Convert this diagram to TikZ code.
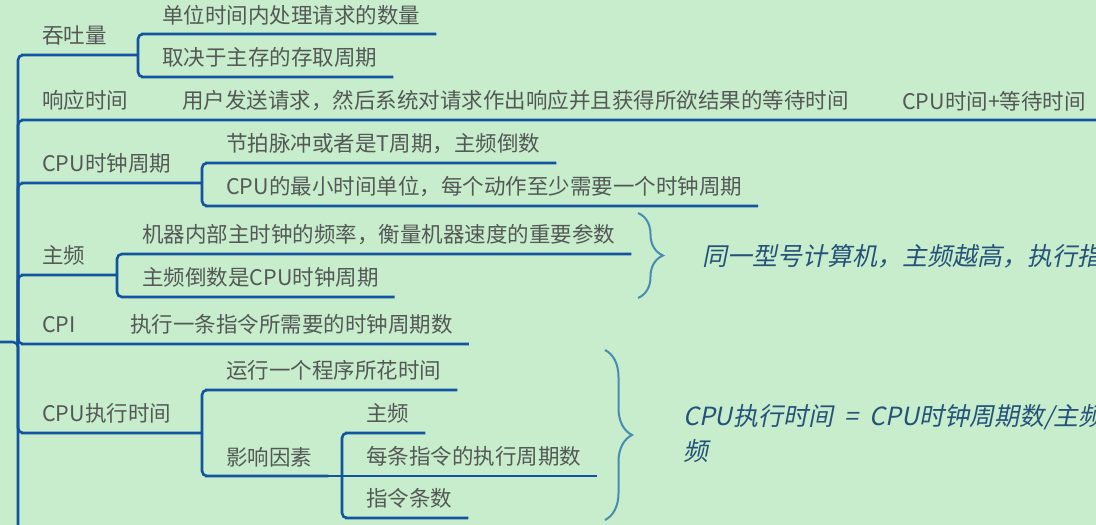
\documentclass[tikz,border=0pt]{standalone}
\usepackage{fontspec}
\usetikzlibrary{decorations.pathreplacing}
\newfontfamily\cjk{Noto Sans CJK SC}
\newfontfamily\cjkit[FakeSlant=0.2]{Noto Sans CJK SC}
\definecolor{BgGreen}{RGB}{199,237,204}
\definecolor{LineBlue}{RGB}{18,84,160}
\definecolor{TextGray}{RGB}{84,88,86}
\definecolor{NoteBlue}{RGB}{38,82,122}
\definecolor{BraceBlue}{RGB}{72,140,178}

\begin{document}
\begin{tikzpicture}[x=1pt,y=1pt,
    topic/.style={anchor=south west,inner xsep=16pt,inner ysep=0pt,
                  minimum height=38pt,text=TextGray,
                  font=\cjk\fontsize{21.5}{26}\selectfont},
    note/.style={anchor=west,inner sep=0pt,text=NoteBlue,align=left,
                 font=\cjkit\fontsize{25}{35}\selectfont},
    ln/.style={draw=LineBlue,line width=2.6pt,rounded corners=5pt},
    brc/.style={draw=BraceBlue,line width=2pt,decorate,
                decoration={brace,amplitude=#1}}
  ]
  \useasboundingbox (0,0) rectangle (1096,-525);
  \clip (0,0) rectangle (1096,-525);
  \fill[BgGreen] (0,0) rectangle (1096,-525);

  % root and trunk
  \coordinate (in) at (-10,-342);
  \coordinate (root) at (18,-342);
  \coordinate (tail) at (18,-540);
  \draw[ln] (in) -- (root) -- (tail);

  % throughput
  \node[topic] (tt) at (26,-55) {吞吐量};
  \coordinate (ttj) at (138,-55);
  \node[topic] (tt1) at (146,-34) {单位时间内处理请求的数量};
  \node[topic] (tt2) at (146,-77) {取决于主存的存取周期};
  \draw[ln] (root) |- (tt.south west) -- (tt.south east) -- (ttj);
  \draw[ln] (ttj) |- (tt1.south west) -- (tt1.south east);
  \draw[ln] (ttj) |- (tt2.south west) -- (tt2.south east);

  % response time
  \node[topic] (rt) at (26,-120) {响应时间};
  \node[topic] (rt1) at (166,-120) {用户发送请求，然后系统对请求作出响应并且获得所欲结果的等待时间};
  \node[topic] (rt2) at (886,-120) {CPU时间+等待时间};
  \draw[ln] (root) |- (rt.south west) -- (rt.south east) -- (rt1.south west)
    -- (rt1.south east) -- (rt2.south west) -- (rt2.south east);

  % clock cycle
  \node[topic] (ck) at (26,-183) {CPU时钟周期};
  \coordinate (ckj) at (202,-183);
  \node[topic] (ck1) at (210,-163) {节拍脉冲或者是T周期，主频倒数};
  \node[topic] (ck2) at (210,-206) {CPU的最小时间单位，每个动作至少需要一个时钟周期};
  \draw[ln] (root) |- (ck.south west) -- (ck.south east) -- (ckj);
  \draw[ln] (ckj) |- (ck1.south west) -- (ck1.south east);
  \draw[ln] (ckj) |- (ck2.south west) -- (ck2.south east);

  % clock rate
  \node[topic] (zp) at (26,-275) {主频};
  \coordinate (zpj) at (117,-275);
  \node[topic] (zp1) at (126,-254) {机器内部主时钟的频率，衡量机器速度的重要参数};
  \node[topic] (zp2) at (126,-297) {主频倒数是CPU时钟周期};
  \draw[ln] (root) |- (zp.south west) -- (zp.south east) -- (zpj);
  \draw[ln] (zpj) |- (zp1.south west) -- (zp1.south east);
  \draw[ln] (zpj) |- (zp2.south west) -- (zp2.south east);
  \coordinate (zpt) at (638,-213);
  \coordinate (zpb) at (638,-298);
  \draw[brc=25pt] (zpt) -- (zpb);
  \node[note] (zpn) at (702,-256) {同一型号计算机，主频越高，执行指};

  % CPI
  \node[topic] (cpi) at (26,-344) {CPI};
  \node[topic] (cpi1) at (114,-344) {执行一条指令所需要的时钟周期数};
  \draw[ln] (root) |- (cpi.south west) -- (cpi.south east) -- (cpi1.south west)
    -- (cpi1.south east);

  % execution time
  \node[topic] (ex) at (26,-433) {CPU执行时间};
  \coordinate (exj) at (202,-433);
  \node[topic] (ex1) at (210,-390) {运行一个程序所花时间};
  \node[topic] (ex2) at (210,-476) {影响因素};
  \draw[ln] (root) |- (ex.south west) -- (ex.south east) -- (exj);
  \draw[ln] (exj) |- (ex1.south west) -- (ex1.south east);
  \draw[ln] (exj) |- (ex2.south west) -- (ex2.south east);
  \coordinate (fxj) at (342,-476);
  \node[topic] (fx1) at (350,-433) {主频};
  \node[topic] (fx2) at (350,-476) {每条指令的执行周期数};
  \node[topic] (fx3) at (350,-518) {指令条数};
  \draw[ln] (ex2.south east) -- (fxj);
  \draw[ln] (fxj) |- (fx1.south west) -- (fx1.south east);
  \draw[ln] (fxj) -- (fx2.south west) -- (fx2.south east);
  \draw[ln] (fxj) |- (fx3.south west) -- (fx3.south east);
  \coordinate (ext) at (605,-350);
  \coordinate (exb) at (605,-520);
  \draw[brc=27pt] (ext) -- (exb);
  \node[note] (exn) at (683,-434)
    {CPU执行时间\hspace{0.45em}=\hspace{0.45em}CPU时钟周期数/主频\\频};
\end{tikzpicture}
\end{document}
